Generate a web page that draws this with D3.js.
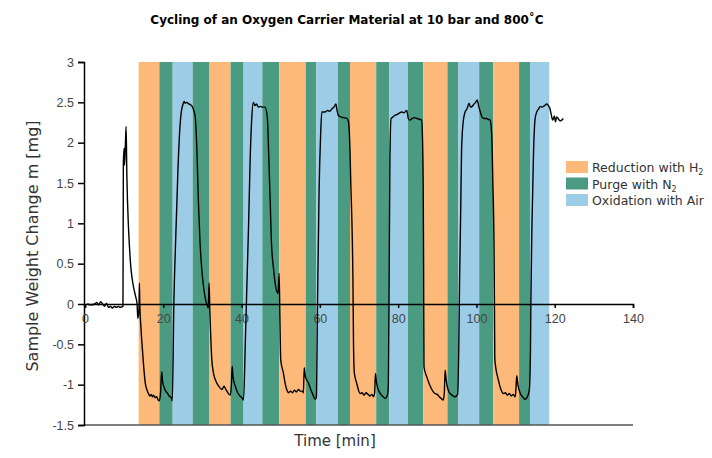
<!DOCTYPE html>
<html>
<head>
<meta charset="utf-8">
<script src="https://cdn.jsdelivr.net/npm/d3@7"></script>
<style>
  body { margin: 0; background: #fff; }
  svg { font-family: "DejaVu Sans", sans-serif; }
</style>
</head>
<body>
<div id="chart"></div>
<script>
// phase boundaries [min] and the phase each interval belongs to
var phaseEdges = [13.7, 19.0, 22.4, 27.5, 31.8, 37.2, 40.5, 45.3, 49.6, 56.4, 59.1, 64.6,
  67.7, 74.4, 77.7, 82.5, 86.4, 92.6, 95.4, 100.7, 104.3, 110.9, 113.7, 118.6];
var phaseCycle = ["red", "purge", "ox", "purge"];

var legendKeys = ["red", "purge", "ox"];
var legendColors = ["#fdb979", "#4a9b82", "#9dcde6"];

// measured curve: time [min] and weight change [mg]
var time = [0.5, 1.5, 2.5, 3.0, 3.5, 4.0, 4.5, 5.0, 5.5, 6.0, 6.5, 7.0, 7.5, 8.0, 8.5, 9.0, 9.7,
  9.8, 10.0, 10.1, 10.3, 10.5, 10.7, 11.1, 11.4, 11.7, 12.0, 12.4, 12.9, 13.3, 13.5, 13.8, 13.9,
  14.0, 14.3, 14.6, 15.0, 15.4, 15.8, 16.2, 16.6, 16.9, 17.2, 17.5, 17.9, 18.3, 18.7, 19.0, 19.3, 19.6, 19.8,
  20.2, 20.6, 21.0, 21.5, 22.0, 22.3,
  22.7, 23.2, 23.7, 24.2, 24.6, 25.0, 25.3, 25.6, 26.0, 26.5, 27.0, 27.5, 27.9, 28.2, 28.6, 29.0, 29.4, 29.8,
  30.3, 30.7, 31.1, 31.5, 31.7,
  31.9, 32.2, 32.4, 32.8, 33.3, 33.9, 34.5, 35.0, 35.5, 36.0, 36.5, 37.1, 37.4, 37.6, 37.8, 38.4, 39.0, 39.6, 40.2, 40.5,
  41.0, 41.4, 41.8, 42.2, 42.6, 43.0, 43.4, 43.8, 44.3, 44.8, 45.4, 46.0, 46.6, 46.9, 47.3, 47.6, 48.2, 48.7, 49.3, 49.6,
  49.8, 50.0, 50.7, 51.2, 51.6, 52.0, 52.5, 53.0, 53.5, 54.0, 54.5, 55.0, 55.5, 55.8, 56.0, 56.3, 57.1, 57.6, 58.2, 58.8, 59.1,
  59.4, 59.8, 60.2, 60.5, 61.3, 62.0, 62.5, 63.1, 63.6, 64.1, 64.4, 64.7, 65.3, 66.0, 66.9, 67.3, 67.7, 67.9, 68.2, 68.45,
  68.6, 68.8, 69.4, 70.3, 70.8, 71.3, 71.8, 72.3, 72.8, 73.3, 73.7, 74.0, 74.2, 74.4, 75.0, 75.6, 76.2, 76.7, 77.3, 77.5,
  77.7, 77.9, 78.2, 78.7, 79.2, 79.8, 80.4, 80.9, 81.5, 82.2, 82.6, 83.0, 83.6, 84.2, 84.8, 85.4, 86.0, 86.2, 86.4, 86.5,
  86.6, 87.3, 88.2, 89.4, 90.0, 90.5, 91.0, 91.5, 91.8, 92.0, 92.3, 92.8, 93.5, 94.0, 94.5, 95.2, 95.5,
  95.7, 96.0, 96.2, 96.6, 97.1, 97.6, 98.1, 98.5, 98.9, 99.4, 99.8, 100.2, 100.6, 101.0, 101.4, 102.0, 102.6, 103.0, 103.5,
  103.9, 104.2, 104.5, 104.6, 104.7, 105.6, 106.2, 106.9, 107.4, 107.9, 108.4, 108.9, 109.4, 109.9, 110.1, 110.3, 110.6,
  111.2, 111.8, 112.4, 112.9, 113.5, 113.8,
  113.9, 114.2, 114.6, 115.0, 115.4, 115.9, 116.3, 116.8, 117.4, 118.0, 118.5, 118.8, 119.1, 119.5, 119.9, 120.2, 120.5,
  121.0, 121.4, 121.8, 122.2];
var weight = [0.0, -0.01, 0.0, 0.02, -0.01, 0.03, 0.0, -0.03, 0.01, -0.04, -0.03, -0.05, -0.03, -0.04, -0.03, -0.04, -0.03,
  1.75, 1.93, 1.72, 1.95, 2.2, 1.58, 0.96, 0.68, 0.46, 0.33, 0.21, 0.1, 0.0, -0.18, -0.05, 0.26,
  0.0, -0.3, -0.52, -0.78, -0.98, -1.06, -1.11, -1.14, -1.12, -1.15, -1.13, -1.16, -1.15, -1.19, -1.2, -1.1, -0.84, -0.95,
  -1.03, -1.08, -1.1, -1.14, -1.16, -1.2,
  0.0, 0.85, 1.6, 2.15, 2.38, 2.47, 2.51, 2.49, 2.5, 2.48, 2.47, 2.44, 2.38, 2.3, 1.89, 1.23, 0.75, 0.45,
  0.21, 0.08, 0.0, -0.05, 0.26,
  -0.1, -0.5, -0.69, -0.85, -0.94, -1.0, -1.04, -1.06, -1.02, -1.06, -1.1, -1.13, -1.0, -0.77, -0.9, -1.02, -1.1, -1.14, -1.17, -1.19,
  -0.4, 0.3, 1.0, 1.8, 2.3, 2.5, 2.46, 2.48, 2.44, 2.45, 2.44, 2.44, 2.3, 1.9, 1.3, 0.8, 0.42, 0.22, 0.13, 0.38,
  -0.2, -0.69, -0.86, -1.0, -1.07, -1.1, -1.08, -1.1, -1.07, -1.09, -1.06, -1.08, -1.08, -1.1, -0.79, -0.9, -0.98, -1.05, -1.12, -1.18, -1.16,
  0.0, 1.4, 2.1, 2.38, 2.38, 2.4, 2.39, 2.42, 2.44, 2.48, 2.4, 2.34, 2.32, 2.31, 2.3, 2.26, 1.9, 1.5, 1.0, 0.3,
  -0.5, -0.85, -0.98, -1.11, -1.1, -1.13, -1.1, -1.12, -1.14, -1.12, -1.15, -1.1, -0.86, -0.95, -1.07, -1.12, -1.15, -1.17, -1.12, -1.0,
  0.3, 1.8, 2.3, 2.32, 2.34, 2.35, 2.37, 2.38, 2.37, 2.4, 2.3, 2.28, 2.3, 2.31, 2.3, 2.29, 2.28, 2.1, 1.5, 0.5,
  -0.78, -0.9, -1.02, -1.11, -1.12, -1.15, -1.17, -1.19, -1.1, -0.82, -0.95, -1.07, -1.12, -1.14, -1.15, -1.12, -0.5,
  0.3, 1.2, 1.9, 2.25, 2.38, 2.42, 2.49, 2.44, 2.45, 2.48, 2.5, 2.53, 2.45, 2.38, 2.32, 2.3, 2.3, 2.29, 2.28,
  2.1, 1.5, 0.67, 0.0, -0.69, -0.94, -1.05, -1.11, -1.1, -1.13, -1.11, -1.14, -1.12, -1.15, -1.05, -0.89, -1.0,
  -1.11, -1.15, -1.18, -1.16, -1.07, -0.6,
  0.0, 1.0, 1.9, 2.3, 2.38, 2.42, 2.45, 2.44, 2.46, 2.48, 2.45, 2.42, 2.35, 2.28, 2.33, 2.26, 2.32,
  2.29, 2.27, 2.28, 2.30];

var xTicks = [0, 20, 40, 60, 80, 100, 120, 140];
var yTicks = [-1.5, -1, -0.5, 0, 0.5, 1, 1.5, 2, 2.5, 3];

var W = 712, H = 458;
var svg = d3.select("#chart").append("svg").attr("width", W).attr("height", H);

var x = d3.scaleLinear().domain([0, 140]).range([85, 633]);
var y = d3.scaleLinear().domain([-1.5, 3]).range([425, 62]);
var color = d3.scaleOrdinal().domain(legendKeys).range(legendColors);

// phase bands
var bands = d3.range(phaseEdges.length - 1).map(function (i) {
  return { x0: phaseEdges[i], x1: phaseEdges[i + 1], type: phaseCycle[i % 4] };
});
svg.append("g").selectAll("rect").data(bands).enter().append("rect")
  .attr("x", function (d) { return x(d.x0); })
  .attr("width", function (d) { return x(d.x1) - x(d.x0); })
  .attr("y", y(3))
  .attr("height", y(-1.5) - y(3))
  .attr("fill", function (d) { return color(d.type); });

// bottom frame line
svg.append("line")
  .attr("x1", x(0) - 1).attr("x2", x(140))
  .attr("y1", y(-1.5)).attr("y2", y(-1.5))
  .attr("stroke", "#555").attr("stroke-width", 1.5);

// y axis
var yAxis = svg.append("g").attr("transform", "translate(" + (x(0) - 1) + ",0)")
  .call(d3.axisLeft(y).tickValues(yTicks).tickSize(6).tickPadding(4)
    .tickFormat(function (d) { return String(d); }));
yAxis.select(".domain").attr("stroke", "#000").attr("stroke-width", 1.5);
yAxis.selectAll(".tick line").attr("stroke", "#000").attr("stroke-width", 1.5);
yAxis.selectAll("text").attr("fill", "#444").style("font-size", "12.5px");

// x axis at y = 0
var xAxis = svg.append("g").attr("transform", "translate(0," + y(0) + ")")
  .call(d3.axisBottom(x).tickValues(xTicks).tickSize(4).tickPadding(6));
xAxis.select(".domain").attr("stroke", "#000").attr("stroke-width", 1.5);
xAxis.selectAll(".tick line").attr("stroke", "#000").attr("stroke-width", 1.5);
xAxis.selectAll("text").attr("fill", "#444").style("font-size", "12.5px");

// curve
var line = d3.line()
  .x(function (d, i) { return x(time[i]); })
  .y(function (d) { return y(d); })
  .curve(d3.curveMonotoneX);
svg.append("path").datum(weight)
  .attr("d", line)
  .attr("fill", "none")
  .attr("stroke", "#000")
  .attr("stroke-width", 1.4)
  .attr("stroke-linejoin", "round");

// titles
svg.append("text").attr("x", 347).attr("y", 24)
  .attr("text-anchor", "middle")
  .style("font-size", "12px").style("font-weight", "bold")
  .text("Cycling of an Oxygen Carrier Material at 10 bar and 800˚C");

svg.append("text").attr("x", 335).attr("y", 446)
  .attr("text-anchor", "middle").attr("fill", "#333")
  .style("font-size", "15px")
  .text("Time [min]");

svg.append("text")
  .attr("transform", "translate(38,246) rotate(-90)")
  .attr("text-anchor", "middle").attr("fill", "#333")
  .style("font-size", "16px")
  .text("Sample Weight Change m [mg]");

// legend
var legendLabels = [["Reduction with H", "2"], ["Purge with N", "2"], ["Oxidation with Air", ""]];
var lg = svg.append("g").attr("transform", "translate(566,161)");
var item = lg.selectAll("g").data(legendKeys).enter().append("g")
  .attr("transform", function (d, i) { return "translate(0," + (i * 16.5) + ")"; });
item.append("rect").attr("width", 22).attr("height", 12)
  .attr("fill", function (d) { return color(d); });
var lt = item.append("text").attr("x", 26).attr("y", 11)
  .attr("fill", "#333").style("font-size", "12.5px");
lt.append("tspan").text(function (d, i) { return legendLabels[i][0]; });
lt.append("tspan").attr("dy", 3).style("font-size", "8px")
  .text(function (d, i) { return legendLabels[i][1]; });
</script>
</body>
</html>
